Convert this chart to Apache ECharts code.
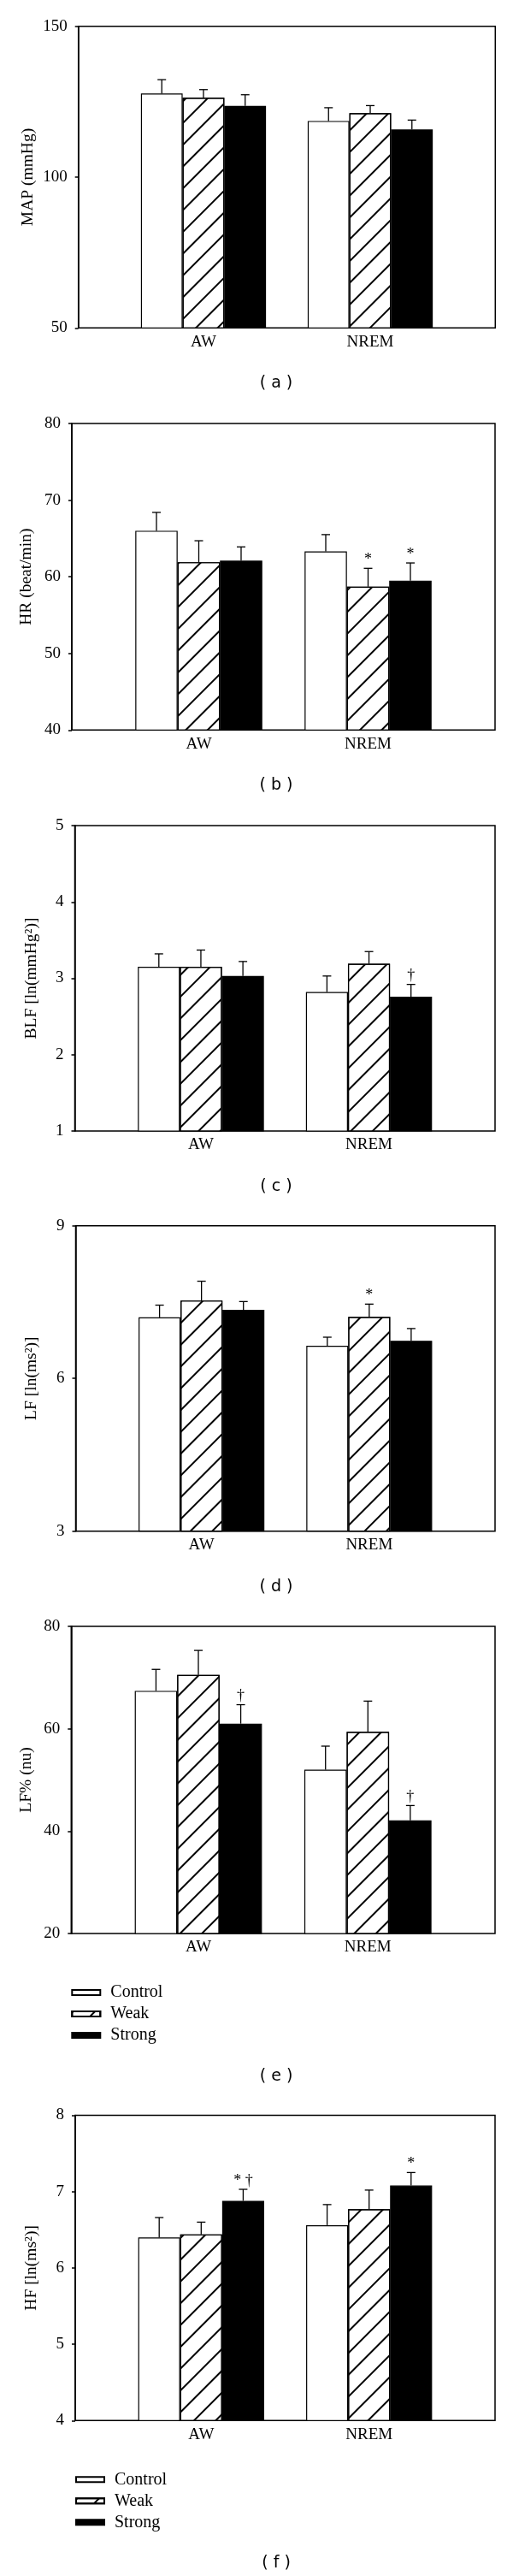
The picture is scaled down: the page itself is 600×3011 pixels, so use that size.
<!DOCTYPE html>
<html><head><meta charset="utf-8">
<script src="https://cdn.jsdelivr.net/npm/echarts@6/dist/echarts.min.js"></script>
<style>html,body{margin:0;padding:0;background:#fff}#c{width:600px;height:3011px}</style>
</head><body><div id="c"></div>
<script>
// ---- data ----
const categories = ['AW', 'NREM'];
const groups = ['Control', 'Weak', 'Strong'];

// (a) MAP
const mapMean = [[127.7, 118.6], [126.3, 121.2], [123.6, 115.8]];
const mapErr = [[4.6, 4.4], [2.7, 2.5], [3.7, 3.1]];
const mapMarks = [['', ''], ['', ''], ['', '']];
const mapTicks = [50, 100, 150];

// (b) HR
const hrMean = [[66.0, 63.3], [61.9, 58.7], [62.1, 59.5]];
const hrErr = [[2.4, 2.2], [2.8, 2.4], [1.8, 2.3]];
const hrMarks = [['', ''], ['', '*'], ['', '*']];
const hrTicks = [40, 50, 60, 70, 80];

// (c) BLF
const blfMean = [[3.15, 2.82], [3.15, 3.19], [3.03, 2.76]];
const blfErr = [[0.17, 0.21], [0.22, 0.16], [0.19, 0.16]];
const blfMarks = [['', ''], ['', ''], ['', '†']];
const blfTicks = [1, 2, 3, 4, 5];

// (d) LF
const lfMean = [[7.20, 6.64], [7.53, 7.21], [7.35, 6.74]];
const lfErr = [[0.24, 0.17], [0.38, 0.25], [0.16, 0.24]];
const lfMarks = [['', ''], ['', '*'], ['', '']];
const lfTicks = [3, 6, 9];

// (e) LF%
const lfpMean = [[67.4, 52.0], [70.5, 59.4], [61.0, 42.1]];
const lfpErr = [[4.2, 4.6], [4.8, 6.0], [3.7, 2.9]];
const lfpMarks = [['', ''], ['', ''], ['†', '†']];
const lfpTicks = [20, 40, 60, 80];

// (f) HF
const hfMean = [[6.40, 6.56], [6.44, 6.77], [6.88, 7.08]];
const hfErr = [[0.26, 0.27], [0.16, 0.25], [0.15, 0.17]];
const hfMarks = [['', ''], ['', ''], ['* †', '*']];
const hfTicks = [4, 5, 6, 7, 8];

const yTitles = ['MAP (mmHg)', 'HR (beat/min)', 'BLF [ln(mmHg²)]', 'LF [ln(ms²)]', 'LF% (nu)', 'HF [ln(ms²)]'];
const panelLabels = ['( a )', '( b )', '( c )', '( d )', '( e )', '( f )'];

// ---- layout ----
const panels = [
  {mean: mapMean, err: mapErr, marks: mapMarks, ticks: mapTicks, l: 91.7, r: 579.3, t: 30.7, b: 383.3, tx: 33, legend: false},
  {mean: hrMean, err: hrErr, marks: hrMarks, ticks: hrTicks, l: 84, r: 579, t: 495, b: 853.3, tx: 31, legend: false},
  {mean: blfMean, err: blfErr, marks: blfMarks, ticks: blfTicks, l: 87.5, r: 579, t: 965, b: 1322, tx: 37, legend: false},
  {mean: lfMean, err: lfErr, marks: lfMarks, ticks: lfTicks, l: 88.5, r: 579, t: 1432.7, b: 1789.7, tx: 37, legend: false},
  {mean: lfpMean, err: lfpErr, marks: lfpMarks, ticks: lfpTicks, l: 83.3, r: 579, t: 1901, b: 2260, tx: 31, legend: true},
  {mean: hfMean, err: hfErr, marks: hfMarks, ticks: hfTicks, l: 88, r: 579, t: 2472.5, b: 2829.3, tx: 37, legend: true}
];

const SERIF = '"Liberation Serif", "Times New Roman", serif';
const barStyles = [
  {color: '#ffffff', borderColor: '#000', borderWidth: 1.2},
  {color: '#ffffff', borderColor: '#000', borderWidth: 1.2,
   decal: {symbol: 'rect', symbolSize: 1, color: '#000', dashArrayX: [1, 0], dashArrayY: [1.1, 15.4], rotation: -Math.PI / 4}},
  {color: '#000000', borderColor: '#000', borderWidth: 1.2}
];

const grid = [], xAxis = [], yAxis = [], series = [], legend = [], graphic = [];

panels.forEach((p, i) => {
  const W = p.r - p.l, H = p.b - p.t;
  const ymin = p.ticks[0], ymax = p.ticks[p.ticks.length - 1], step = p.ticks[1] - p.ticks[0];
  const fi = 2 * i, di = 2 * i + 1;
  grid.push({left: p.l, top: p.t, width: W, height: H, show: true, borderColor: '#000', borderWidth: 1.5,
             backgroundColor: 'transparent', containLabel: false, outerBoundsMode: 'none'});
  grid.push({left: p.l + 0.1 * W, top: p.t, width: 0.8 * W, height: H, containLabel: false, outerBoundsMode: 'none'});
  xAxis.push({gridIndex: fi, type: 'value', min: 0, max: 1, show: false});
  xAxis.push({gridIndex: di, type: 'category', data: categories,
    axisLine: {show: false}, axisTick: {show: false}, splitLine: {show: false},
    axisLabel: {color: '#000', fontFamily: SERIF, fontSize: 19, margin: 7}});
  yAxis.push({gridIndex: fi, type: 'value', min: ymin, max: ymax, interval: step,
    axisLine: {show: true, lineStyle: {color: '#000', width: 1.5}},
    axisTick: {show: true, inside: false, length: 4, lineStyle: {color: '#000', width: 1.5}},
    axisLabel: {color: '#000', fontFamily: SERIF, fontSize: 19, margin: 13},
    splitLine: {show: false},
    name: yTitles[i], nameLocation: 'middle', nameGap: (p.l - p.tx) - 10, nameMoveOverlap: false,
    nameTextStyle: {color: '#000', fontFamily: SERIF, fontSize: 19.5}});
  yAxis.push({gridIndex: di, type: 'value', min: ymin, max: ymax, show: false});

  for (let k = 0; k < 3; k++) {
    series.push({type: 'bar', name: groups[k], xAxisIndex: di, yAxisIndex: di,
      data: p.mean[k], barGap: '0%', barCategoryGap: '25%', itemStyle: barStyles[k],
      silent: true, animation: false, z: 2});
  }
  const items = [], markList = [];
  for (let k = 0; k < 3; k++) for (let c = 0; c < categories.length; c++) {
    items.push([c, k, p.mean[k][c], p.err[k][c]]);
    markList.push(p.marks[k][c]);
  }
  series.push({type: 'custom', xAxisIndex: di, yAxisIndex: di, data: items, z: 5, silent: true,
    animation: false, clip: false,
    renderItem: function (params, api) {
      const c = api.value(0), k = api.value(1), v = api.value(2), e = api.value(3);
      const base = api.coord([c, v]);
      const bw = api.size([1, 0])[0] * 0.25;
      const x = base[0] + (k - 1) * bw;
      const y0 = base[1];
      const y1 = api.coord([c, v + e])[1];
      const children = [
        {type: 'line', shape: {x1: x, y1: y0, x2: x, y2: y1}, style: {stroke: '#000', lineWidth: 1.3}},
        {type: 'line', shape: {x1: x - 5, y1: y1, x2: x + 5, y2: y1}, style: {stroke: '#000', lineWidth: 1.3}}
      ];
      const m = markList[params.dataIndex];
      if (m) children.push({type: 'text', x: x, y: y1 - 1,
        style: {text: m, fill: '#000', font: '18px "Liberation Serif"', align: 'center', verticalAlign: 'bottom'}});
      return {type: 'group', children: children};
    }});

  if (p.legend) {
    legend.push({show: true, orient: 'vertical', left: p.l, top: p.b + 59, itemWidth: 33, itemHeight: 6,
      itemGap: 5, selectedMode: false, icon: 'rect', data: groups, padding: 0,
      textStyle: {color: '#000', fontFamily: SERIF, fontSize: 20, lineHeight: 20, padding: [0, 0, 0, 7]}});
  }
  graphic.push({type: 'text', x: 323, y: p.b + (p.legend ? 167 : 65),
    style: {text: panelLabels[i], font: '19px "DejaVu Sans"', fill: '#000', align: 'center', verticalAlign: 'middle'}});
});

const chart = echarts.init(document.getElementById('c'), null, {renderer: 'canvas', width: 600, height: 3011});
chart.setOption({animation: false, backgroundColor: '#fff', grid, xAxis, yAxis, series, legend, graphic});
</script></body></html>
